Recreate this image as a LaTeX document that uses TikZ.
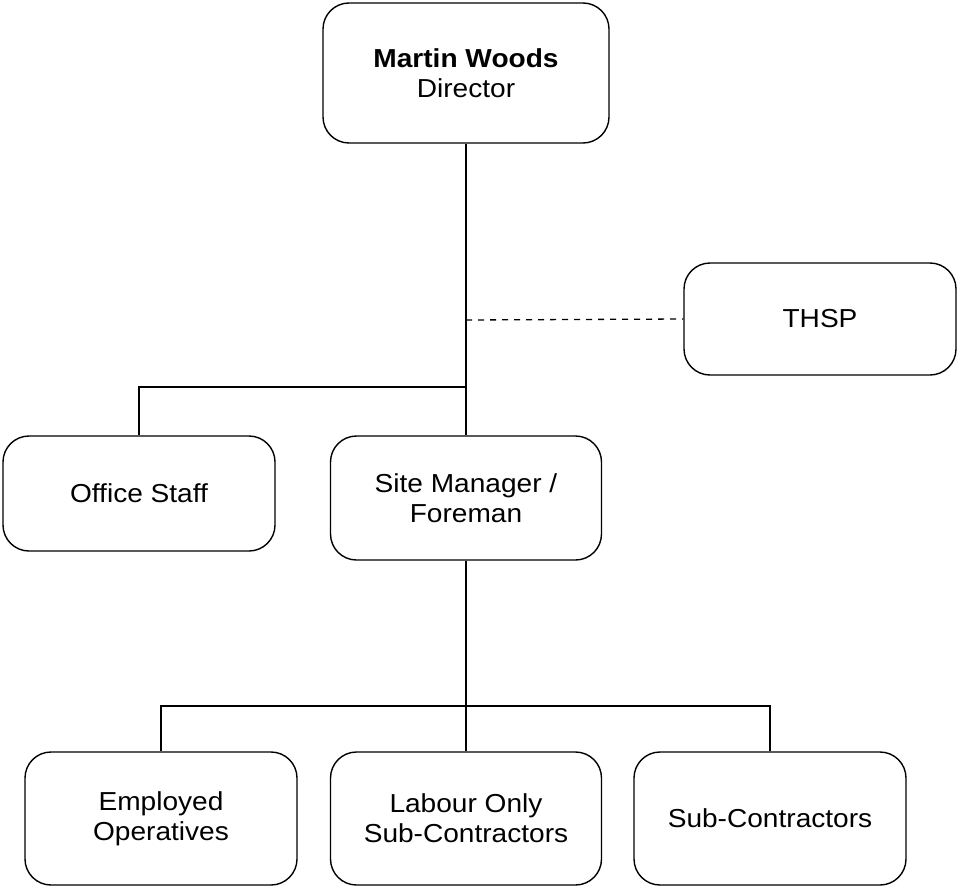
\documentclass[tikz,border=0pt]{standalone}
\usepackage{fontspec}
\setmainfont{Liberation Sans}[FakeStretch=1.08]
\begin{document}
\begin{tikzpicture}[x=1pt,y=-1pt,
  box/.style={draw, line width=1.4pt, rounded corners=26pt, align=center,
    inner sep=0pt, font=\fontsize{26}{30}\selectfont},
  conn/.style={line width=1.3pt},
  dconn/.style={line width=1.3pt, dash pattern=on 6pt off 6pt}]
\useasboundingbox (0,0) rectangle (957,888);
\node[box, minimum width=286pt, minimum height=140pt] (dir) at (466,73) {\textbf{Martin Woods}\\Director};
\node[box, minimum width=272pt, minimum height=112pt] (thsp) at (820,319) {THSP};
\node[box, minimum width=272pt, minimum height=115pt] (office) at (139,493.5) {Office Staff};
\node[box, minimum width=271pt, minimum height=124pt] (site) at (466,498) {Site Manager /\\Foreman};
\node[box, minimum width=272pt, minimum height=133pt] (emp) at (161,818.5) {Employed\\Operatives};
\node[box, minimum width=271pt, minimum height=133pt] (lab) at (466,818.5) {Labour Only\\Sub-Contractors};
\node[box, minimum width=272pt, minimum height=133pt] (sub) at (770,818.5) {Sub-Contractors};
\coordinate (j1) at (466,320);
\coordinate (j2) at (466,387);
\coordinate (j3) at (466,706);
\draw[conn] (dir.south) -- (site.north);
\draw[dconn] (j1) -- (thsp.west);
\draw[conn] (j2) -| (office.north);
\draw[conn] (site.south) -- (lab.north);
\draw[conn] (j3) -| (emp.north);
\draw[conn] (j3) -| (sub.north);
\end{tikzpicture}
\end{document}
